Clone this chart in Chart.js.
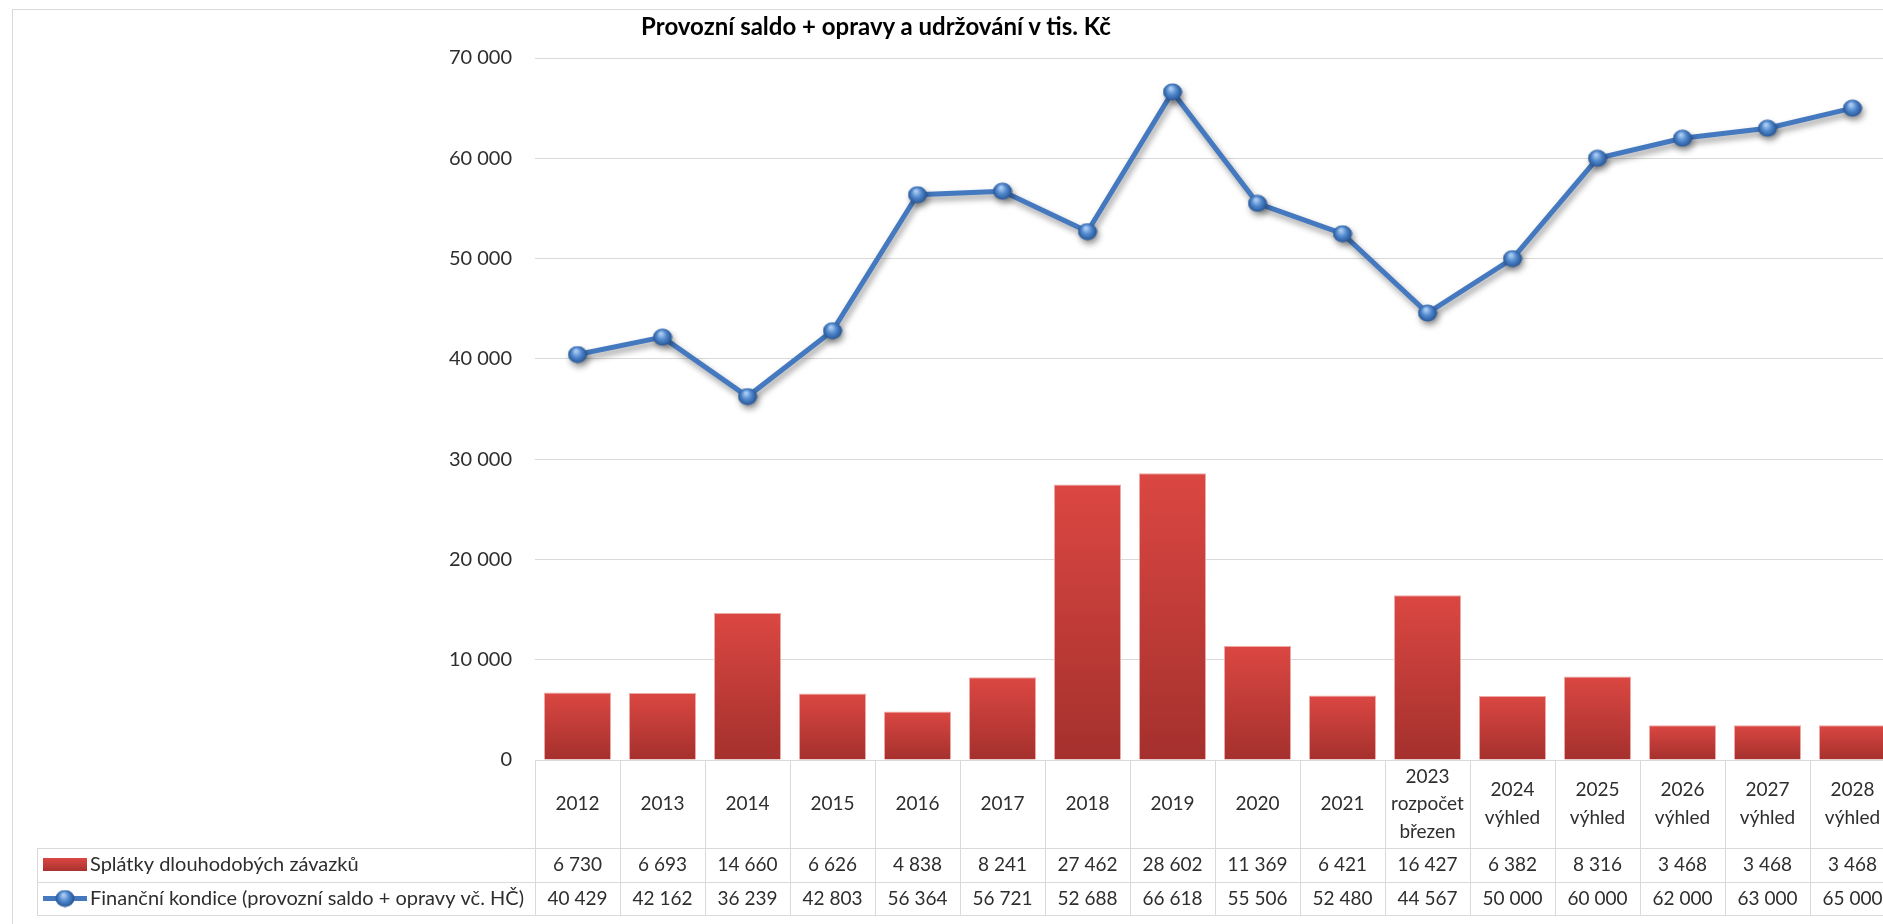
<!DOCTYPE html>
<html>
<head>
<meta charset="utf-8">
<title>Provozní saldo + opravy a udržování v tis. Kč</title>
<script src="https://cdn.jsdelivr.net/npm/chart.js@4.4.0/dist/chart.umd.min.js"></script>
<style>
  html, body { margin: 0; padding: 0; background: #fff; overflow: hidden; }
  #wrap { position: relative; width: 1910px; height: 924px; }
  #title { position: absolute; left: 0; width: 1752px; top: 11px; text-align: center;
           font: bold 24px Lato, sans-serif; color: #000; line-height: 30px; }
  canvas { position: absolute; left: 0; top: 0; }
</style>
</head>
<body>
<div id="wrap">
  <canvas id="chart" width="1910" height="924"></canvas>
  <div id="title">Provozní saldo + opravy a udržování v tis. Kč</div>
</div>
<script>
const categories = [
    ['2012'], ['2013'], ['2014'], ['2015'], ['2016'], ['2017'], ['2018'], ['2019'],
    ['2020'], ['2021'], ['2023', 'rozpočet', 'březen'], ['2024', 'výhled'], ['2025', 'výhled'],
    ['2026', 'výhled'], ['2027', 'výhled'], ['2028', 'výhled']
];
const splatky = [6730, 6693, 14660, 6626, 4838, 8241, 27462, 28602, 11369, 6421, 16427, 6382, 8316, 3468, 3468, 3468];
const kondice = [40429, 42162, 36239, 42803, 56364, 56721, 52688, 66618, 55506, 52480, 44567, 50000, 60000, 62000, 63000, 65000];
const seriesNames = ['Splátky dlouhodobých závazků', 'Finanční kondice (provozní saldo + opravy vč. HČ)'];
const yMax = 70000;
const yStep = 10000;

const textColor = '#2E2E2E';
const gridColor = '#D9D9D9';
const tableFont = '19px Lato, sans-serif';
const legendFont = '20px Lato, sans-serif';

function fmt(v) {
    return String(v).replace(/\B(?=(\d{3})+(?!\d))/g, ' ');
}

// little 3d ball for the line markers
function sphere(w, h) {
    const c = document.createElement('canvas');
    c.width = w; c.height = h;
    const g = c.getContext('2d');
    const grad = g.createRadialGradient(w * 0.42, h * 0.3, 1, w / 2, h / 2, w / 2);
    grad.addColorStop(0, '#A9CBF2');
    grad.addColorStop(0.45, '#4F86CC');
    grad.addColorStop(1, '#1F4C8A');
    g.fillStyle = grad;
    g.beginPath();
    g.ellipse(w / 2, h / 2, w / 2 - 0.5, h / 2 - 0.5, 0, 0, Math.PI * 2);
    g.fill();
    return c;
}
const ball = sphere(20, 18);

function barGradient(ctx, top, bottom) {
    const g = ctx.createLinearGradient(0, top, 0, bottom);
    g.addColorStop(0, '#DB4742');
    g.addColorStop(1, '#A4302D');
    return g;
}

const borderPlugin = {
    id: 'chartBorder',
    beforeDraw(chart) {
        const ctx = chart.ctx;
        ctx.save();
        ctx.strokeStyle = gridColor;
        ctx.lineWidth = 1;
        ctx.strokeRect(12.5, 9.5, chart.width + 20, chart.height + 20);
        ctx.restore();
    }
};

const shadowPlugin = {
    id: 'lineShadow',
    beforeDatasetDraw(chart, args) {
        if (chart.data.datasets[args.index].type !== 'line') return;
        const ctx = chart.ctx;
        ctx.save();
        ctx.shadowColor = 'rgba(0,0,0,0.4)';
        ctx.shadowBlur = 6;
        ctx.shadowOffsetX = 2;
        ctx.shadowOffsetY = 4;
    },
    afterDatasetDraw(chart, args) {
        if (chart.data.datasets[args.index].type !== 'line') return;
        chart.ctx.restore();
    }
};

// Excel style data table under the plot
const tablePlugin = {
    id: 'dataTable',
    afterDraw(chart) {
        const { ctx, chartArea, scales: { x } } = chart;
        const rowTop = chartArea.bottom;
        const row1 = 848, row2 = 882, row3 = 915;
        const legendLeft = 37;
        const half = (x.getPixelForValue(1) - x.getPixelForValue(0)) / 2;
        const n = categories.length;

        ctx.save();
        ctx.strokeStyle = gridColor;
        ctx.lineWidth = 1;
        ctx.beginPath();
        for (let i = 0; i <= n; i++) {
            const px = Math.round((i < n ? x.getPixelForValue(i) - half : x.getPixelForValue(n - 1) + half)) + 0.5;
            ctx.moveTo(px, rowTop);
            ctx.lineTo(px, row3);
        }
        [row1, row2, row3].forEach(y => {
            ctx.moveTo(legendLeft, y + 0.5);
            ctx.lineTo(chart.width, y + 0.5);
        });
        ctx.moveTo(legendLeft + 0.5, row1);
        ctx.lineTo(legendLeft + 0.5, row3);
        ctx.stroke();

        ctx.font = tableFont;
        ctx.fillStyle = textColor;
        ctx.textAlign = 'center';
        ctx.textBaseline = 'middle';
        const lh = 27.5;
        categories.forEach((lines, i) => {
            const cx = x.getPixelForValue(i);
            const y0 = (rowTop + row1) / 2 - (lines.length - 1) * lh / 2;
            lines.forEach((t, k) => ctx.fillText(t, cx, y0 + k * lh));
            ctx.fillText(fmt(splatky[i]), cx, (row1 + row2) / 2);
            ctx.fillText(fmt(kondice[i]), cx, (row2 + row3) / 2);
        });

        // legend keys
        const keyL = 43, keyR = 87;
        const y1 = (row1 + row2) / 2, y2 = (row2 + row3) / 2;
        ctx.fillStyle = barGradient(ctx, y1 - 7, y1 + 7);
        ctx.fillRect(keyL, y1 - 7, keyR - keyL, 13);
        ctx.strokeStyle = '#4479C0';
        ctx.lineWidth = 5;
        ctx.beginPath();
        ctx.moveTo(keyL, y2);
        ctx.lineTo(keyR, y2);
        ctx.stroke();
        ctx.drawImage(ball, (keyL + keyR) / 2 - 10, y2 - 9);

        ctx.font = legendFont;
        ctx.fillStyle = textColor;
        ctx.textAlign = 'left';
        ctx.fillText(seriesNames[0], 90, y1);
        ctx.fillText(seriesNames[1], 90, y2);
        ctx.restore();
    }
};

new Chart(document.getElementById('chart'), {
    data: {
        labels: categories,
        datasets: [
            {
                type: 'line',
                label: seriesNames[1],
                data: kondice,
                order: 1,
                borderColor: '#4479C0',
                borderWidth: 5,
                tension: 0,
                pointStyle: ball,
                pointRadius: 9,
                pointHoverRadius: 9
            },
            {
                type: 'bar',
                label: seriesNames[0],
                data: splatky,
                order: 2,
                categoryPercentage: 1,
                barPercentage: 0.79,
                borderWidth: 1,
                borderColor: 'rgba(236,160,156,0.9)',
                backgroundColor: (c) => {
                    const chart = c.chart;
                    if (!chart.chartArea || c.type !== 'data') return '#C53B37';
                    const y = chart.scales.y;
                    return barGradient(chart.ctx, y.getPixelForValue(c.raw), y.getPixelForValue(0));
                }
            }
        ]
    },
    options: {
        responsive: false,
        animation: false,
        layout: { padding: { left: 0, right: 15, top: 58, bottom: 0 } },
        plugins: {
            legend: { display: false },
            tooltip: { enabled: false },
            title: { display: false }
        },
        scales: {
            x: {
                grid: { display: false },
                border: { display: false },
                ticks: { display: false },
                afterFit: (s) => { s.height = 164; }
            },
            y: {
                min: 0,
                max: yMax,
                ticks: {
                    stepSize: yStep,
                    padding: 23,
                    color: textColor,
                    font: { family: 'Lato, sans-serif', size: 20 },
                    callback: (v) => fmt(v)
                },
                grid: { color: gridColor, drawTicks: false },
                border: { display: false },
                afterFit: (s) => { s.width = 535; }
            }
        }
    },
    plugins: [borderPlugin, shadowPlugin, tablePlugin]
});
</script>
</body>
</html>
